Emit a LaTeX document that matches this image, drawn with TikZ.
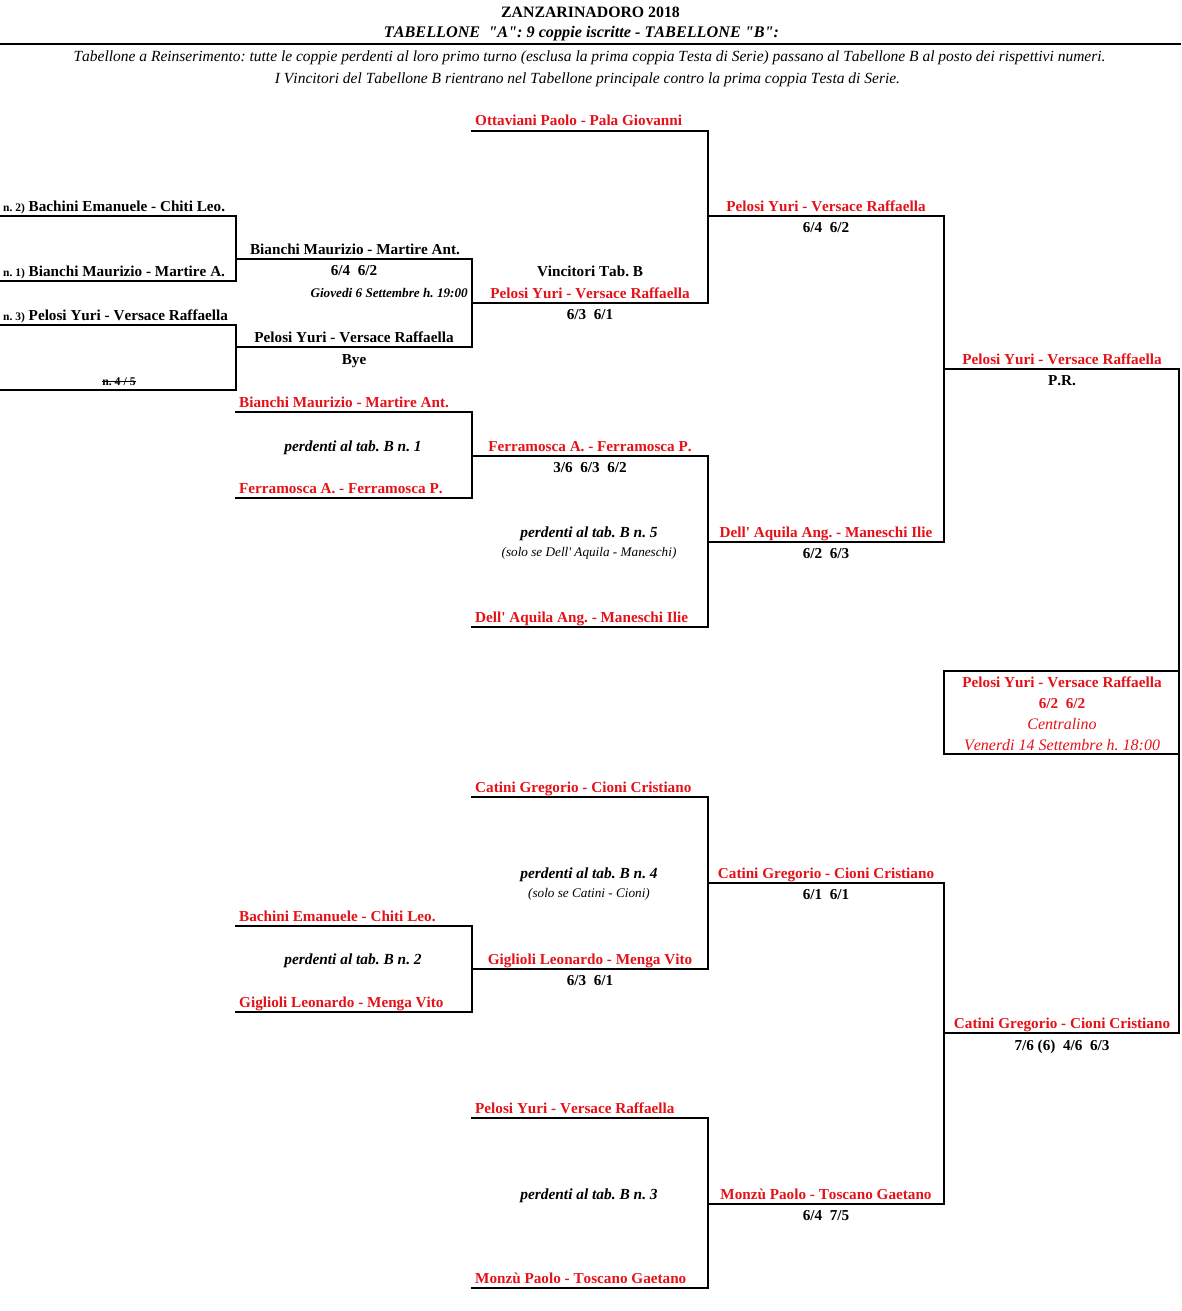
\documentclass[tikz,border=0pt]{standalone}
\usepackage{fontspec}
\setmainfont{Liberation Serif}[Ligatures={TeXOff,NoCommon},Kerning=Off]
\definecolor{xlred}{RGB}{228,18,24}
\tikzset{
  bline/.style={line width=2pt, line cap=rect},
  t/.style={anchor=base, inner sep=0pt, font=\fontsize{15.2}{18}\selectfont\bfseries},
  tl/.style={t, anchor=base west},
  rd/.style={text=xlred},
  pi/.style={anchor=base, inner sep=0pt, font=\fontsize{15.4}{18}\selectfont\bfseries\itshape},
  sm/.style={anchor=base, inner sep=0pt, font=\fontsize{13.2}{15}\selectfont\itshape},
  hd/.style={anchor=base, inner sep=0pt, font=\fontsize{15.5}{18}\selectfont\itshape},
}
\newcommand{\nn}[1]{{\fontsize{11.5}{13}\selectfont #1}}
\begin{document}
\frenchspacing
\begin{tikzpicture}[x=1pt,y=-1pt]
\useasboundingbox (0,0) rectangle (1181,1311);
% header
\node[t, font=\fontsize{15.8}{18}\selectfont\bfseries] (title) at (590.5,18) {ZANZARINADORO 2018};
\node[pi, font=\fontsize{16.2}{18}\selectfont\bfseries\itshape] (sub) at (581.5,38) {TABELLONE~~"A": 9 coppie iscritte - TABELLONE "B":};
\draw[bline, line cap=butt] (0,44) -- (1181,44);
\node[hd] (h1) at (589.5,61.5) {Tabellone a Reinserimento: tutte le coppie perdenti al loro primo turno (esclusa la prima coppia Testa di Serie) passano al Tabellone B al posto dei rispettivi numeri.};
\node[hd] (h2) at (587.5,83.5) {I Vincitori del Tabellone B rientrano nel Tabellone principale contro la prima coppia Testa di Serie.};

% ---------- bracket lines ----------
% column 0
\draw[bline] (0,216) -- (236,216) -- (236,281) -- (0,281);
\draw[bline] (0,325) -- (236,325) -- (236,390) -- (0,390);
% column 1
\draw[bline] (236,259) -- (472,259) -- (472,347) -- (236,347);
\draw[bline] (236,412) -- (472,412) -- (472,498) -- (236,498);
\draw[bline] (236,926) -- (472,926) -- (472,1012) -- (236,1012);
% column 2
\draw[bline] (472,131) -- (708,131) -- (708,303) -- (472,303);
\draw[bline] (472,456) -- (708,456) -- (708,627) -- (472,627);
\draw[bline] (472,797) -- (708,797) -- (708,969) -- (472,969);
\draw[bline] (472,1118) -- (708,1118) -- (708,1288) -- (472,1288);
% column 3
\draw[bline] (708,216) -- (944,216) -- (944,542) -- (708,542);
\draw[bline] (708,883) -- (944,883) -- (944,1204) -- (708,1204);
% column 4
\draw[bline] (944,369) -- (1179,369) -- (1179,1033) -- (944,1033);
\draw[bline] (944,671) rectangle (1179,754);

% ---------- column 0 texts ----------
\node[tl] (a1) at (3,211) {\nn{n. 2)} Bachini Emanuele - Chiti Leo.};
\node[tl] (a2) at (3,276) {\nn{n. 1)} Bianchi Maurizio - Martire A.};
\node[tl] (a3) at (3,320) {\nn{n. 3)} Pelosi Yuri - Versace Raffaella};
\node[t, font=\fontsize{11.8}{13}\selectfont\bfseries] (a4) at (119,385) {n. 4 / 5};
\draw[line width=0.9pt] ([yshift=3.6pt]a4.base west) -- ([yshift=3.6pt]a4.base east);

% ---------- column 1 texts ----------
\node[t] (b1) at (355,254) {Bianchi Maurizio - Martire Ant.};
\node[t] (b1s) at (354,275) {6/4~~6/2};
\node[anchor=base east, inner sep=0pt, font=\fontsize{13.2}{15}\selectfont\bfseries\itshape] (b1d) at (468,297) {Giovedi 6 Settembre h. 19:00};
\node[t] (b2) at (354,342) {Pelosi Yuri - Versace Raffaella};
\node[t] (b2s) at (354,364) {Bye};
\node[tl, rd] (b3) at (239,407) {Bianchi Maurizio - Martire Ant.};
\node[pi] (b3p) at (353,451) {perdenti al tab. B n. 1};
\node[tl, rd] (b4) at (239,493) {Ferramosca A. - Ferramosca P.};
\node[tl, rd] (b5) at (239,921) {Bachini Emanuele - Chiti Leo.};
\node[pi] (b5p) at (353,964) {perdenti al tab. B n. 2};
\node[tl, rd] (b6) at (239,1007) {Giglioli Leonardo - Menga Vito};

% ---------- column 2 texts ----------
\node[tl, rd] (c1) at (475,126) {Ottaviani Paolo - Pala Giovanni};
\node[t] (c2v) at (590,276) {Vincitori Tab. B};
\node[t, rd] (c2) at (590,298) {Pelosi Yuri - Versace Raffaella};
\node[t] (c2s) at (590,319) {6/3~~6/1};
\node[t, rd] (c3) at (590,451) {Ferramosca A. - Ferramosca P.};
\node[t] (c3s) at (590,472) {3/6~~6/3~~6/2};
\node[pi] (c3p) at (589,537) {perdenti al tab. B n. 5};
\node[sm] (c3q) at (589,556) {(solo se Dell' Aquila - Maneschi)};
\node[tl, rd] (c4) at (475,622) {Dell' Aquila Ang. - Maneschi Ilie};
\node[tl, rd] (c5) at (475,792) {Catini Gregorio - Cioni Cristiano};
\node[pi] (c5p) at (589,878) {perdenti al tab. B n. 4};
\node[sm] (c5q) at (589,897) {(solo se Catini - Cioni)};
\node[t, rd] (c6) at (590,964) {Giglioli Leonardo - Menga Vito};
\node[t] (c6s) at (590,985) {6/3~~6/1};
\node[tl, rd] (c7) at (475,1113) {Pelosi Yuri - Versace Raffaella};
\node[pi] (c7p) at (589,1199) {perdenti al tab. B n. 3};
\node[tl, rd] (c8) at (475,1283) {Monzù Paolo - Toscano Gaetano};

% ---------- column 3 texts ----------
\node[t, rd] (d1) at (826,211) {Pelosi Yuri - Versace Raffaella};
\node[t] (d1s) at (826,232) {6/4~~6/2};
\node[t, rd] (d2) at (826,537) {Dell' Aquila Ang. - Maneschi Ilie};
\node[t] (d2s) at (826,558) {6/2~~6/3};
\node[t, rd] (d3) at (826,878) {Catini Gregorio - Cioni Cristiano};
\node[t] (d3s) at (826,899) {6/1~~6/1};
\node[t, rd] (d4) at (826,1199) {Monzù Paolo - Toscano Gaetano};
\node[t] (d4s) at (826,1220) {6/4~~7/5};

% ---------- column 4 texts ----------
\node[t, rd] (e1) at (1062,364) {Pelosi Yuri - Versace Raffaella};
\node[t] (e1s) at (1062,385) {P.R.};
\node[t, rd] (f1) at (1062,687) {Pelosi Yuri - Versace Raffaella};
\node[t, rd] (f2) at (1062,708) {6/2~~6/2};
\node[t, rd, font=\fontsize{16}{18}\selectfont\itshape] (f3) at (1062,729) {Centralino};
\node[t, rd, font=\fontsize{16}{18}\selectfont\itshape] (f4) at (1062,750) {Venerdi 14 Settembre h. 18:00};
\node[t, rd] (e2) at (1062,1028) {Catini Gregorio - Cioni Cristiano};
\node[t] (e2s) at (1062,1050) {7/6 (6)~~4/6~~6/3};
\end{tikzpicture}
\end{document}
